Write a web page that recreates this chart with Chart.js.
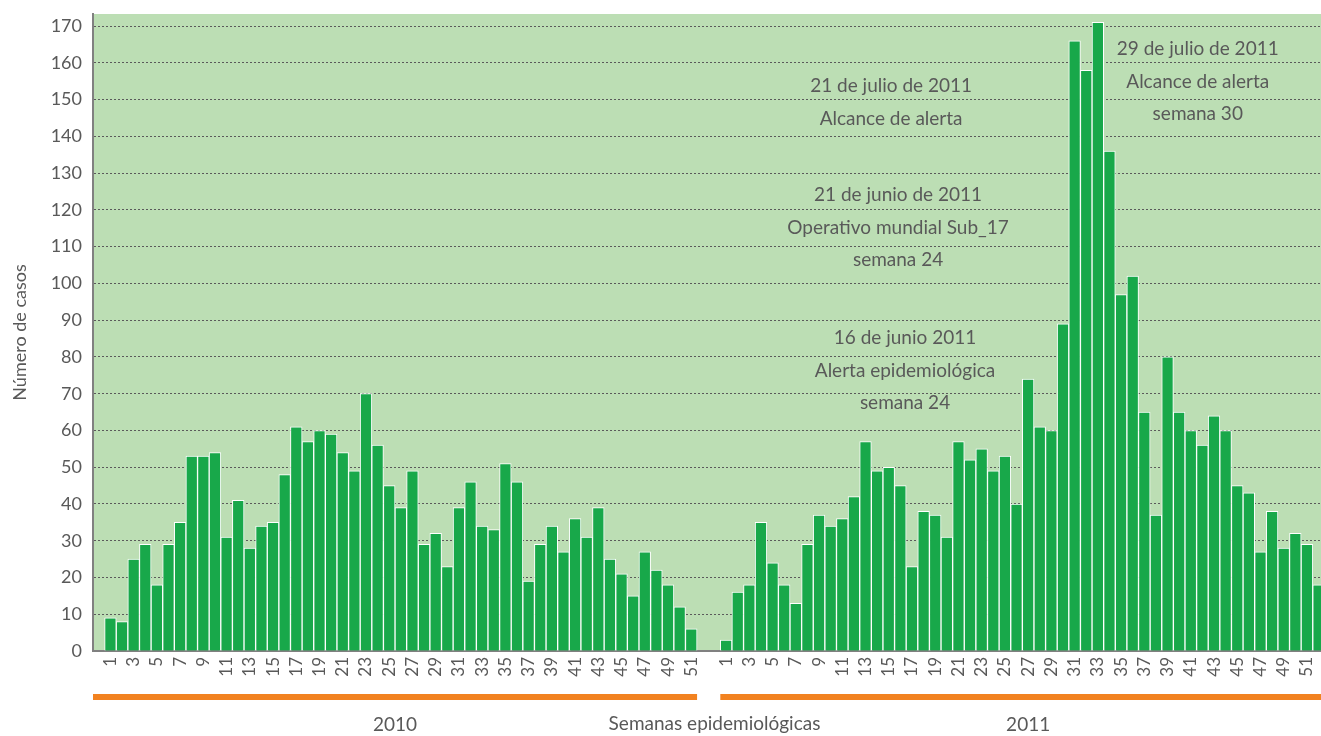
<!DOCTYPE html>
<html>
<head>
<meta charset="utf-8">
<script src="https://cdn.jsdelivr.net/npm/chart.js@4.4.0/dist/chart.umd.min.js"></script>
<style>
  html, body { margin: 0; padding: 0; background: #fff; overflow: hidden; }
</style>
</head>
<body>
<canvas id="chart" width="1340" height="736"></canvas>
<script>
// casos por semana epidemiologica
var cases2010 = [9, 8, 25, 29, 18, 29, 35, 53, 53, 54, 31, 41, 28, 34, 35, 48, 61, 57, 60, 59,
                 54, 49, 70, 56, 45, 39, 49, 29, 32, 23, 39, 46, 34, 33, 51, 46, 19, 29, 34, 27,
                 36, 31, 39, 25, 21, 15, 27, 22, 18, 12, 6];
var cases2011 = [3, 16, 18, 35, 24, 18, 13, 29, 37, 34, 36, 42, 57, 49, 50, 45, 23, 38, 37, 31,
                 57, 52, 55, 49, 53, 40, 74, 61, 60, 89, 166, 158, 171, 136, 97, 102, 65, 37, 80, 65,
                 60, 56, 64, 60, 45, 43, 27, 38, 28, 32, 29, 18, 16];
var years = ['2010', '2011'];
var noteTexts = [
  ['21 de julio de 2011', 'Alcance de alerta'],
  ['21 de junio de 2011', 'Operativo mundial Sub_17', 'semana 24'],
  ['16 de junio 2011', 'Alerta epidemiológica', 'semana 24'],
  ['29 de julio de 2011', 'Alcance de alerta', 'semana 30']
];

// category layout: blank, 2010 weeks, two blanks, 2011 weeks
var labels = [''];
var values = [null];
cases2010.forEach(function (v, i) { labels.push(String(i + 1)); values.push(v); });
labels.push('', '');
values.push(null, null);
var start2011 = labels.length;
cases2011.forEach(function (v, i) { labels.push(String(i + 1)); values.push(v); });

// where the notes sit (category index, value of first line)
var noteAnchors = [[68.2, 153.7], [68.8, 124.0], [69.4, 85.1], [94.6, 163.8]];

var grey = '#595959';

var decor = {
  id: 'decor',
  beforeDraw: function (chart) {
    var a = chart.chartArea, ctx = chart.ctx;
    ctx.save();
    ctx.fillStyle = '#bcdeb4';
    ctx.fillRect(a.left, a.top, a.right - a.left, a.bottom - a.top);
    ctx.restore();
  },
  afterDraw: function (chart) {
    var ctx = chart.ctx, a = chart.chartArea;
    var xs = chart.scales.x, ys = chart.scales.y;
    var half = (xs.getPixelForValue(1) - xs.getPixelForValue(0)) / 2;
    var groups = [[0, cases2010.length], [start2011, labels.length - 1]];
    ctx.save();
    groups.forEach(function (g, i) {
      var x1 = xs.getPixelForValue(g[0]) - half;
      var x2 = xs.getPixelForValue(g[1]) + half;
      ctx.fillStyle = '#f28220';
      ctx.fillRect(x1, a.bottom + 43, x2 - x1, 6);
      ctx.fillStyle = grey;
      ctx.font = '19px Lato';
      ctx.textAlign = 'center';
      ctx.textBaseline = 'middle';
      ctx.fillText(years[i], (x1 + x2) / 2, a.bottom + 74);
    });
    ctx.font = '19px Lato';
    ctx.fillStyle = grey;
    ctx.textAlign = 'center';
    ctx.textBaseline = 'middle';
    noteTexts.forEach(function (lines, i) {
      var x = xs.getPixelForValue(noteAnchors[i][0]);
      var y = ys.getPixelForValue(noteAnchors[i][1]);
      lines.forEach(function (t, j) { ctx.fillText(t, x, y + j * 32.5); });
    });
    ctx.restore();
  }
};

new Chart(document.getElementById('chart'), {
  type: 'bar',
  data: {
    labels: labels,
    datasets: [{
      data: values,
      backgroundColor: '#18a84a',
      borderColor: '#ffffff',
      borderWidth: 1,
      barPercentage: 1,
      categoryPercentage: 1
    }]
  },
  options: {
    responsive: false,
    animation: false,
    devicePixelRatio: 1,
    layout: { padding: { top: 14, right: 4, bottom: 0, left: 0 } },
    plugins: { legend: { display: false }, tooltip: { enabled: false } },
    scales: {
      x: {
        grid: { display: false, drawTicks: false },
        border: { color: '#808080', width: 2 },
        ticks: {
          autoSkip: false, minRotation: 90, maxRotation: 90, padding: 6,
          color: grey, font: { family: 'Lato', size: 17 },
          callback: function (v) {
            var l = this.getLabelForValue(v);
            return (l && (+l) % 2 === 1) ? l : '';
          }
        },
        title: {
          display: true, text: 'Semanas epidemiológicas', color: grey,
          font: { family: 'Lato', size: 19 }, padding: { top: 0, bottom: 1 }
        },
        afterFit: function (s) { s.height = 85; s.paddingLeft = 0; s.paddingRight = 0; }
      },
      y: {
        min: 0, max: 173.3,
        ticks: { stepSize: 10, includeBounds: false, padding: 11, color: grey, font: { family: 'Lato', size: 18 } },
        grid: { color: '#5a5a5a', lineWidth: 1, drawTicks: false },
        border: { color: '#808080', width: 2, dash: [2, 2] },
        title: {
          display: true, text: 'Número de casos', color: grey,
          font: { family: 'Lato', size: 18 }, padding: { top: 9, bottom: 0 }
        },
        afterFit: function (s) { s.width = 93; s.paddingTop = 0; s.paddingBottom = 0; }
      }
    }
  },
  plugins: [decor]
});
</script>
</body>
</html>
